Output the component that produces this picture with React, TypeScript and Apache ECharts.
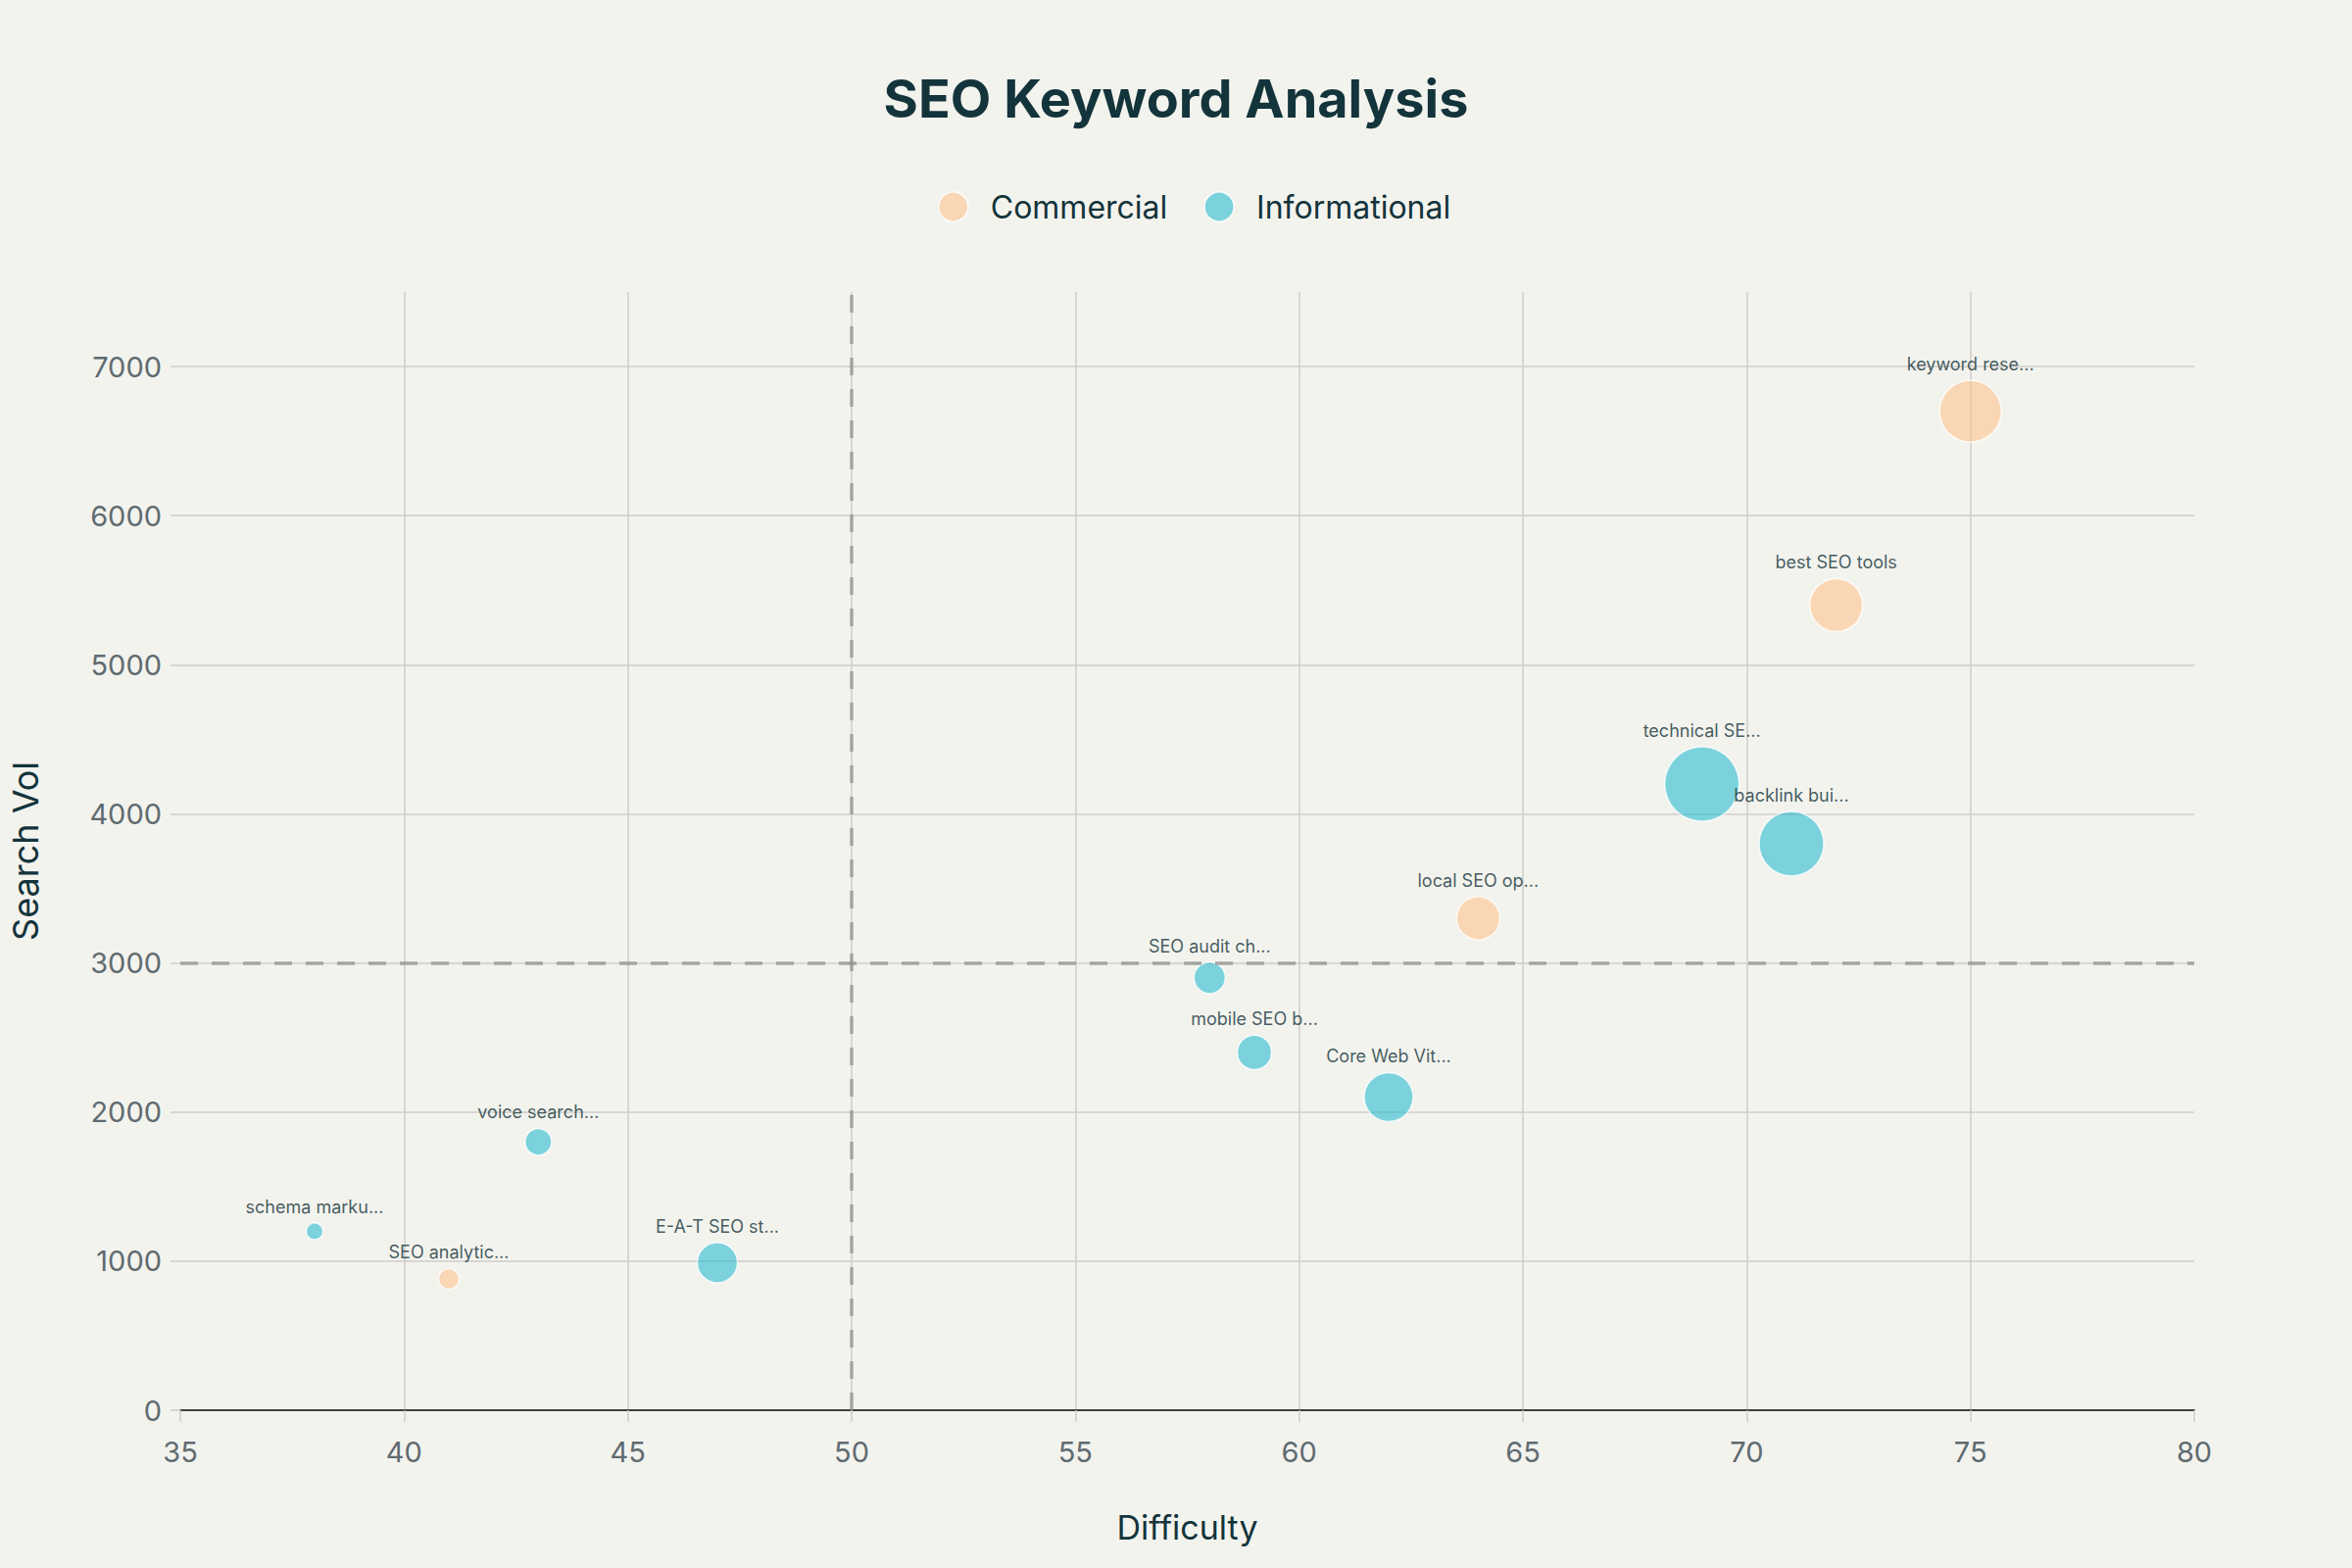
import React, { useEffect, useRef } from "react";
import * as echarts from "echarts";

const commercialNames = ["keyword rese...", "best SEO tools", "local SEO op...", "SEO analytic..."];
const commercialDifficulty = [75, 72, 64, 41];
const commercialVolume = [6700, 5400, 3300, 880];
const commercialSize = [63, 54, 44, 21];

const informationalNames = [
  "technical SE...",
  "backlink bui...",
  "SEO audit ch...",
  "mobile SEO b...",
  "Core Web Vit...",
  "voice search...",
  "schema marku...",
  "E-A-T SEO st...",
];
const informationalDifficulty = [69, 71, 58, 59, 62, 43, 38, 47];
const informationalVolume = [4200, 3800, 2900, 2400, 2100, 1800, 1200, 990];
const informationalSize = [76, 66, 32, 35, 50, 27, 17, 41];

const xTicks = { min: 35, max: 80, interval: 5 };
const yTicks = { min: 0, max: 7500, interval: 1000 };
const yTickValues = [0, 1000, 2000, 3000, 4000, 5000, 6000, 7000];
const refX = 50;
const refY = 3000;

const FONT = "Inter, 'Liberation Sans', sans-serif";
const DARK = "#13343B";
const GRID = "#CFCDC8";

function build(names: string[], xs: number[], ys: number[], sizes: number[]) {
  return names.map((n, i) => ({ name: n, value: [xs[i], ys[i], sizes[i]] }));
}

export default function App() {
  const ref = useRef<HTMLDivElement>(null);
  useEffect(() => {
    if (!ref.current) return;
    const chart = echarts.init(ref.current, undefined, { renderer: "svg" });
    const labelCfg = {
      show: true,
      position: "top" as const,
      distance: 7,
      formatter: (p: any) => p.name,
      color: DARK,
      fontSize: 18,
      fontFamily: FONT,
    };
    chart.setOption({
      animation: false,
      backgroundColor: "#F3F3EE",
      title: {
        text: "SEO Keyword Analysis",
        left: "center",
        top: 68,
        textStyle: { fontSize: 54, fontWeight: "bold", color: DARK, fontFamily: FONT },
      },
      legend: {
        top: 190,
        left: 952,
        icon: "circle",
        itemWidth: 30,
        itemHeight: 30,
        itemGap: 37,
        textStyle: { fontSize: 32, color: DARK, fontFamily: FONT, padding: [0, 0, 0, 18] },
        data: [
          { name: "Commercial", itemStyle: { color: "rgba(255,193,133,0.7)", borderColor: "#FFFFFF", borderWidth: 1.5 } },
          { name: "Informational", itemStyle: { color: "rgba(31,184,205,0.7)", borderColor: "#FFFFFF", borderWidth: 1.5 } },
        ],
      },
      grid: { left: 184, right: 161, top: 298, bottom: 161 },
      xAxis: {
        type: "value",
        min: xTicks.min,
        max: xTicks.max,
        interval: xTicks.interval,
        name: "Difficulty",
        nameLocation: "middle",
        nameGap: 102,
        nameTextStyle: { fontSize: 34, color: DARK, fontFamily: FONT },
        axisLine: { show: true, onZero: false, lineStyle: { color: "#3D3D3D", width: 2 } },
        axisTick: { show: true, length: 12, lineStyle: { color: GRID, width: 1.5 } },
        axisLabel: { fontSize: 29, color: "#5F6B70", margin: 28, fontFamily: FONT },
        splitLine: { show: true, showMinLine: false, showMaxLine: false, lineStyle: { color: GRID, width: 1.5 } },
      },
      yAxis: {
        type: "value",
        min: yTicks.min,
        max: yTicks.max,
        interval: yTicks.interval,
        name: "Search Vol",
        nameLocation: "middle",
        nameGap: 140,
        nameTextStyle: { fontSize: 36, color: DARK, fontFamily: FONT },
        axisLine: { show: false },
        axisTick: { show: true, length: 10, customValues: yTickValues, lineStyle: { color: GRID, width: 1.5 } },
        axisLabel: {
          fontSize: 29,
          color: "#5F6B70",
          margin: 19,
          fontFamily: FONT,
          customValues: yTickValues,
          formatter: (v: number) => String(v),
        },
        splitLine: { show: true, showMinLine: false, showMaxLine: true, lineStyle: { color: GRID, width: 1.5 } },
      },
      series: [
        {
          name: "Commercial",
          type: "scatter",
          data: build(commercialNames, commercialDifficulty, commercialVolume, commercialSize),
          symbolSize: (v: number[]) => v[2],
          itemStyle: { color: "rgba(255,193,133,0.7)", borderColor: "#FFFFFF", borderWidth: 1.5 },
          label: labelCfg,
          markLine: {
            silent: true,
            symbol: ["none", "none"],
            label: { show: false },
            lineStyle: { type: [18, 14], color: "rgba(140,140,140,0.7)", width: 3.5 },
            data: [{ xAxis: refX }, { yAxis: refY }],
          },
        },
        {
          name: "Informational",
          type: "scatter",
          data: build(informationalNames, informationalDifficulty, informationalVolume, informationalSize),
          symbolSize: (v: number[]) => v[2],
          itemStyle: { color: "rgba(31,184,205,0.7)", borderColor: "#FFFFFF", borderWidth: 1.5 },
          label: labelCfg,
        },
      ],
    });
    return () => chart.dispose();
  }, []);
  return <div ref={ref} style={{ position: "absolute", left: 0, top: 0, width: 2400, height: 1600 }} />;
}
